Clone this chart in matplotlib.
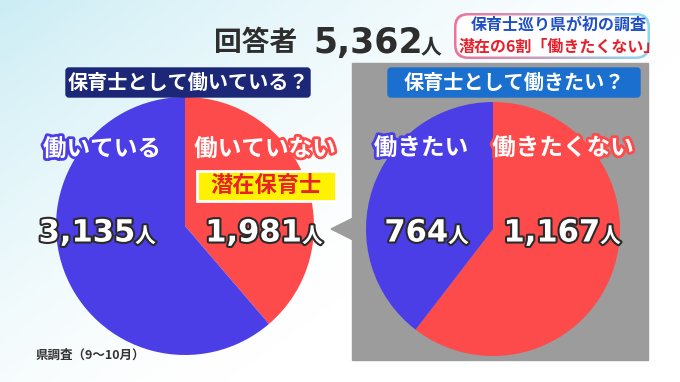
import numpy as np
import matplotlib
matplotlib.use("Agg")
import matplotlib.pyplot as plt
import matplotlib.patheffects as pe
from matplotlib.patches import Rectangle, FancyBboxPatch, Polygon

plt.rcParams['font.family'] = ['Noto Sans CJK JP', 'DejaVu Sans']

# data
total = 5362
q1_title = "保育士として働いている？"
q1_labels = ["働いていない", "働いている"]
q1_values = [1981, 3135]
q2_title = "保育士として働きたい？"
q2_labels = ["働きたくない", "働きたい"]
q2_values = [1167, 764]
source = "県調査（9～10月）"

RED = "#fd4b4b"
BLUE = "#4b3ee6"
W, H = 680, 382


def Y(y):
    return H - y


fig = plt.figure(figsize=(6.8, 3.82), dpi=100)
ax = fig.add_axes([0, 0, 1, 1])
ax.set_axis_off()

# background gradient (light cyan top-left -> white)
gx, gy = np.meshgrid(np.linspace(0, 1, 200), np.linspace(0, 1, 120))
t = np.clip(1 - (gx * 0.9 + gy * 0.7), 0, 1) ** 1.5
c0 = np.array([0.80, 0.93, 0.96])
c1 = np.array([1.0, 1.0, 1.0])
bg = c1 + (c0 - c1) * t[..., None]
ax.imshow(bg, extent=[0, W, 0, H], origin="upper", zorder=0, aspect="auto")

# gray panel for right side + pointer
ax.add_patch(Rectangle((352, Y(360)), 296, 297, color="#9c9c9c", zorder=1))
ax.add_patch(Polygon([(331, Y(229)), (353, Y(218)), (353, Y(240))], closed=True,
                     color="#9c9c9c", zorder=1))

# pies
w1, _ = ax.pie(q1_values, colors=[RED, BLUE], startangle=90, counterclock=False,
               center=(185, Y(226)), radius=129, frame=True)
w2, _ = ax.pie(q2_values, colors=[RED, BLUE], startangle=90, counterclock=False,
               center=(493, Y(229)), radius=127, frame=True)
for w in w1 + w2:
    w.set_zorder(2)

# question boxes
ax.add_patch(FancyBboxPatch((66, Y(97)), 244, 29, boxstyle="round,pad=0,rounding_size=3",
                            color="#1c2877", zorder=3))
ax.text(188, Y(82), q1_title, color="white", fontsize=14.5, fontweight="bold",
        ha="center", va="center", zorder=4)
ax.add_patch(FancyBboxPatch((388, Y(97)), 252, 29, boxstyle="round,pad=0,rounding_size=3",
                            color="#1a6fcf", zorder=3))
ax.text(514, Y(82), q2_title, color="white", fontsize=14.5, fontweight="bold",
        ha="center", va="center", zorder=4)

# title
ax.text(297, Y(43), "回答者", color="#2e2e2e", fontsize=20, fontweight="bold",
        ha="right", va="center", zorder=4)
ax.text(313, Y(43), f"{total:,}", color="#2e2e2e", fontsize=25, fontweight="bold",
        family=["DejaVu Sans"], ha="left", va="center", zorder=4)
ax.text(421, Y(47), "人", color="#2e2e2e", fontsize=15, fontweight="bold",
        ha="left", va="center", zorder=4)

# headline box with gradient border
hb = FancyBboxPatch((454, Y(59)), 196, 46, boxstyle="round,pad=0,rounding_size=14",
                    facecolor="none", edgecolor="none", zorder=3)
ax.add_patch(hb)
gxx = np.linspace(0, 1, 100)
border = np.zeros((10, 100, 3))
border[:] = (np.array([0.94, 0.45, 0.60])[None, :] * (1 - gxx[:, None])
             + np.array([0.55, 0.85, 0.95])[None, :] * gxx[:, None])
im = ax.imshow(border, extent=[454, 650, Y(59), Y(13)], zorder=3, aspect="auto")
im.set_clip_path(hb)
ax.add_patch(FancyBboxPatch((456.5, Y(56.5)), 191, 41, boxstyle="round,pad=0,rounding_size=12",
                            facecolor="white", edgecolor="none", zorder=3.5))
ax.text(559, Y(25), "保育士巡り県が初の調査", color="#1f4fc4", fontsize=11.5,
        fontweight="bold", ha="center", va="center", zorder=4)
ax.text(559, Y(47), "潜在の6割「働きたくない」", color="#e5222b", fontsize=11.5,
        fontweight="bold", ha="center", va="center", zorder=4)


# slice labels
def outlined(x, y, s, stroke, size, lw=4, **kw):
    ax.text(x, Y(y), s, color="white", fontsize=size, fontweight="bold",
            va="center", zorder=5,
            path_effects=[pe.withStroke(linewidth=lw, foreground=stroke)], **kw)


outlined(102, 149, q1_labels[1], BLUE, 17, ha="center")
outlined(265, 149, q1_labels[0], RED, 17, ha="center")
outlined(421, 148, q2_labels[1], BLUE, 17, ha="center")
outlined(563, 148, q2_labels[0], RED, 17, ha="center")


def count(x_split, y, v):
    outlined(x_split, y, f"{v:,}", "#2a2a2a", 22, lw=3, ha="right",
             family=["DejaVu Sans"])
    outlined(x_split, y + 3, "人", "#2a2a2a", 15, lw=3, ha="left")


count(135, 233, q1_values[1])
count(302, 233, q1_values[0])
count(448, 233, q2_values[1])
count(600, 233, q2_values[0])

# 潜在保育士 tag
ax.add_patch(Rectangle((197, Y(201)), 139, 30, facecolor="#fff200", edgecolor="white",
                       linewidth=2, zorder=4))
ax.text(266, Y(186), "潜在保育士", color="#e8222a", fontsize=16, fontweight="bold",
        ha="center", va="center", zorder=5)

ax.text(36, Y(355), source, color="#333333", fontsize=9, fontweight="bold",
        ha="left", va="center", zorder=4)

ax.set_xlim(0, W)
ax.set_ylim(0, H)
ax.set_aspect("auto")
fig.savefig("out.png", dpi=100)
